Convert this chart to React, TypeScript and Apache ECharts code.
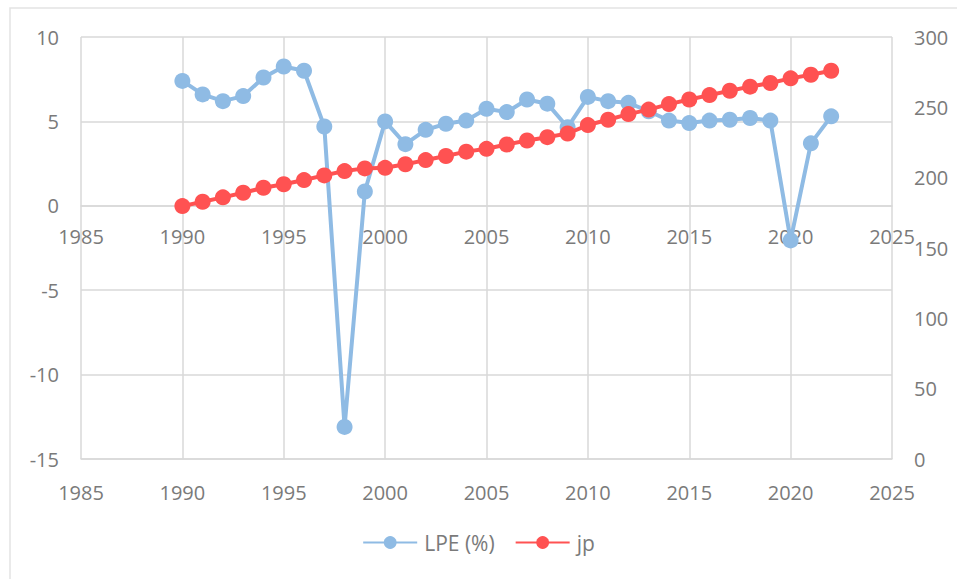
import React, { useEffect, useRef } from "react";
import * as echarts from "echarts";

const years = [
  1990, 1991, 1992, 1993, 1994, 1995, 1996, 1997, 1998, 1999, 2000, 2001, 2002,
  2003, 2004, 2005, 2006, 2007, 2008, 2009, 2010, 2011, 2012, 2013, 2014, 2015,
  2016, 2017, 2018, 2019, 2020, 2021, 2022,
];
const lpe = [
  7.4, 6.6, 6.2, 6.5, 7.6, 8.25, 8.0, 4.7, -13.1, 0.85, 5.0, 3.65, 4.5, 4.86,
  5.05, 5.75, 5.55, 6.3, 6.05, 4.65, 6.45, 6.2, 6.1, 5.6, 5.05, 4.9, 5.05, 5.1,
  5.2, 5.05, -2.05, 3.7, 5.3,
];
const jp = [
  179.8, 182.9, 186, 189.3, 192.8, 195.3, 198.3, 201.6, 204.7, 206.6, 207,
  209.5, 212.5, 215.4, 218.5, 220.5, 223.6, 226.4, 228.8, 231.4, 237.4, 241.2,
  245.2, 248.4, 252.3, 255.6, 258.7, 261.8, 264.7, 267.3, 270.6, 273.2, 276,
];
const seriesNames = ["LPE (%)", "jp"];

const FONT = "'Open Sans', sans-serif";
const TXT = "#7a7a7a";
const GRID = "#d9d9d9";
const GRID_TOP = 37;
const GRID_BOTTOM = 120;
const HEIGHT = 579;
const LEFT_MIN = -15;
const LEFT_MAX = 10;

export default function App() {
  const ref = useRef<HTMLDivElement>(null);
  useEffect(() => {
    if (!ref.current) return;
    const chart = echarts.init(ref.current, null, { renderer: "svg" });
    const labelStyle = { color: TXT, fontSize: 20, fontFamily: FONT };
    const plotH = HEIGHT - GRID_TOP - GRID_BOTTOM;
    const zeroOffset = -(LEFT_MAX / (LEFT_MAX - LEFT_MIN)) * plotH;
    const yearFmt = (v: number) => String(v);
    chart.setOption({
      animation: false,
      backgroundColor: "#ffffff",
      textStyle: { fontFamily: FONT },
      graphic: [
        {
          type: "rect",
          shape: { x: 10, y: 8, width: 1000, height: 650 },
          style: { fill: "none", stroke: "#e3e3e3", lineWidth: 1.5 },
          silent: true,
          z: -10,
        },
      ],
      grid: { left: 81, right: 65, top: GRID_TOP, bottom: GRID_BOTTOM, containLabel: false },
      legend: {
        bottom: 21,
        left: "center",
        itemWidth: 54,
        itemHeight: 16,
        itemGap: 20,
        textStyle: { color: TXT, fontSize: 21, fontFamily: FONT, padding: [0, 0, 0, 2] },
        data: seriesNames,
      },
      xAxis: [
        {
          type: "value",
          position: "top",
          offset: zeroOffset,
          min: 1985,
          max: 2025,
          interval: 5,
          axisLine: { show: true, onZero: false, lineStyle: { color: GRID, width: 1.5 } },
          axisTick: { show: false },
          axisLabel: { ...labelStyle, inside: true, margin: 21, formatter: yearFmt },
          splitLine: { show: true, lineStyle: { color: GRID, width: 1.5 } },
        },
        {
          type: "value",
          position: "bottom",
          min: 1985,
          max: 2025,
          interval: 5,
          axisLine: { show: true, onZero: false, lineStyle: { color: GRID, width: 1.5 } },
          axisTick: { show: false },
          axisLabel: { ...labelStyle, margin: 23, formatter: yearFmt },
          splitLine: { show: false },
        },
      ],
      yAxis: [
        {
          type: "value",
          position: "left",
          min: LEFT_MIN,
          max: LEFT_MAX,
          interval: 5,
          axisLine: { show: false },
          axisTick: { show: false },
          axisLabel: { ...labelStyle, margin: 22 },
          splitLine: { show: true, lineStyle: { color: GRID, width: 1.5 } },
        },
        {
          type: "value",
          position: "right",
          min: 0,
          max: 300,
          interval: 50,
          axisLine: { show: false },
          axisTick: { show: false },
          axisLabel: { ...labelStyle, margin: 22 },
          splitLine: { show: false },
        },
      ],
      series: [
        {
          name: seriesNames[0],
          type: "line",
          xAxisIndex: 0,
          yAxisIndex: 0,
          data: years.map((y, i) => [y, lpe[i]]),
          symbol: "circle",
          symbolSize: 16,
          lineStyle: { color: "#8fbbe4", width: 4 },
          itemStyle: { color: "#8fbbe4" },
          z: 3,
        },
        {
          name: seriesNames[1],
          type: "line",
          xAxisIndex: 1,
          yAxisIndex: 1,
          data: years.map((y, i) => [y, jp[i]]),
          symbol: "circle",
          symbolSize: 16,
          lineStyle: { color: "#ff5252", width: 4 },
          itemStyle: { color: "#ff5252" },
          z: 4,
        },
      ],
    });
    return () => chart.dispose();
  }, []);
  return (
    <div
      ref={ref}
      style={{ position: "fixed", left: 0, top: 0, width: 957, height: 579 }}
    />
  );
}
